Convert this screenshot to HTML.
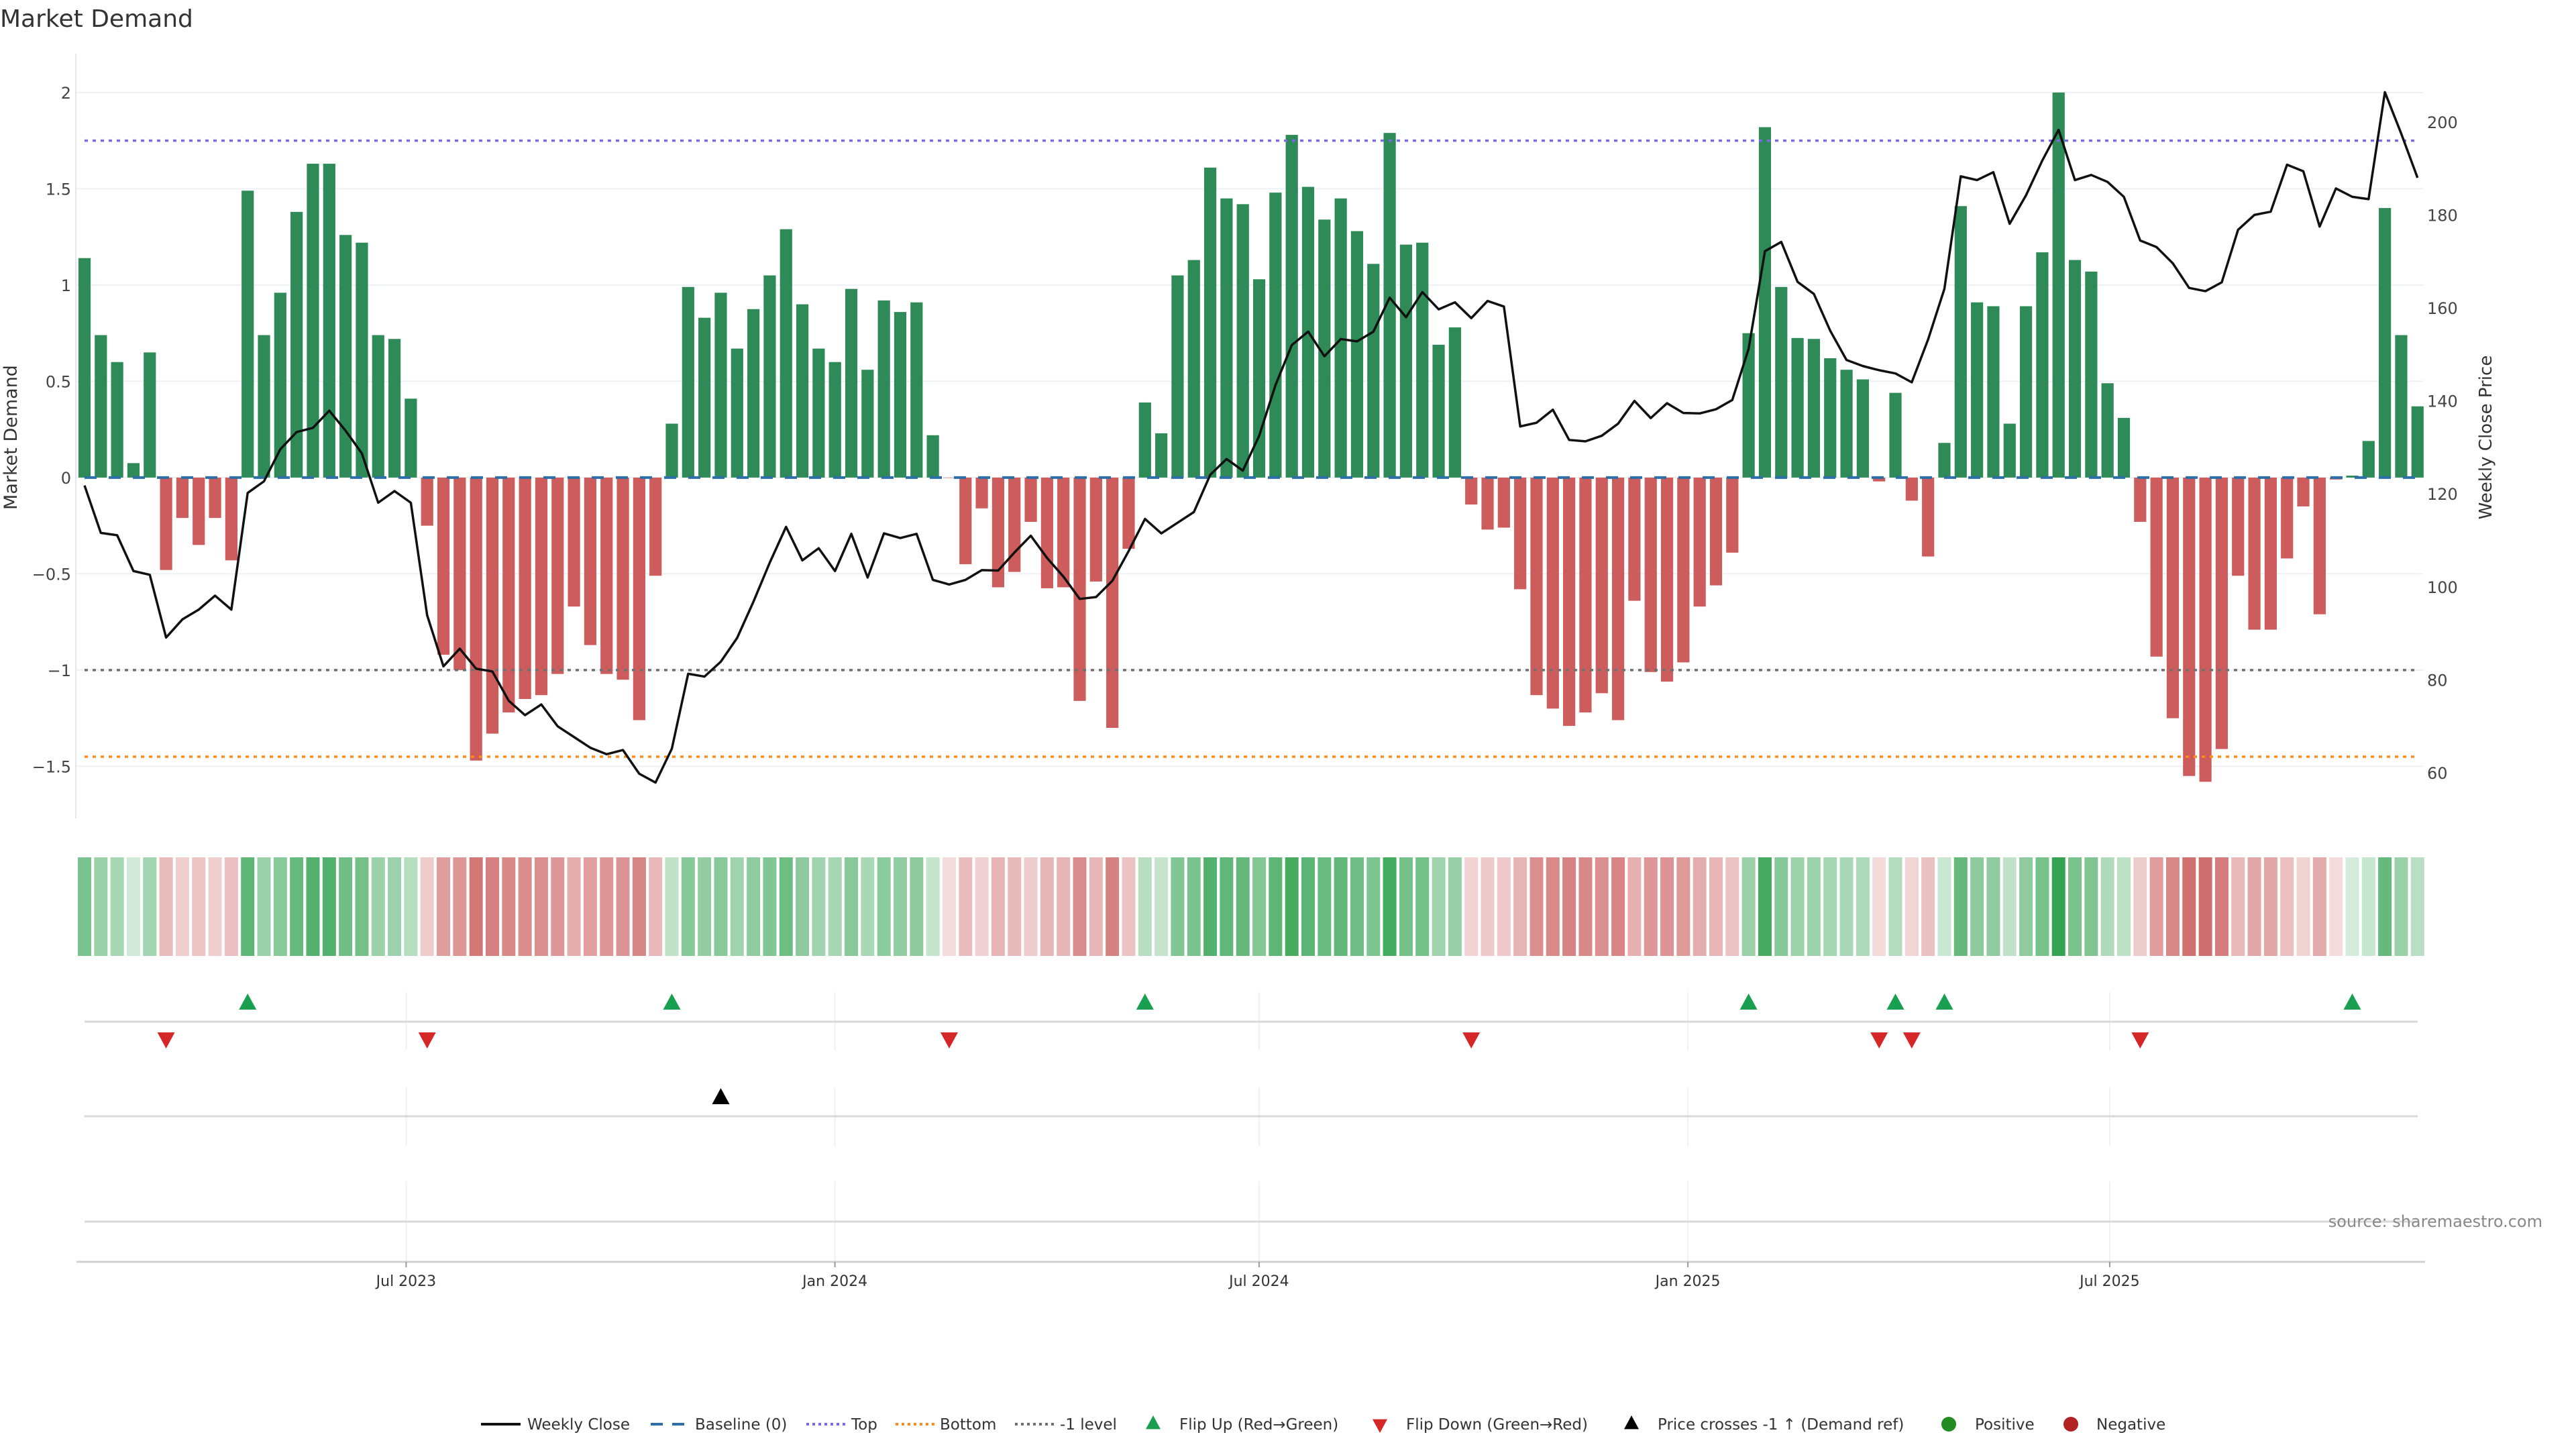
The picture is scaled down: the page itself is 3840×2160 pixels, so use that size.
<!DOCTYPE html>
<html><head><meta charset="utf-8"><style>
html,body{margin:0;padding:0;background:#fff}
svg{display:block;font-family:"DejaVu Sans","Liberation Sans",sans-serif}
</style></head><body>
<svg id="chart" xmlns="http://www.w3.org/2000/svg" width="3840" height="2160" viewBox="0 0 3840 2160">
<text x="0" y="40" font-size="36" fill="#333">Market Demand</text>
<g id="main"></g>
<g id="strip"></g>
<g id="flips"></g>
<g id="cross"></g>
<g id="xaxis"></g>
<text x="3790" y="1829" font-size="24" fill="#888" text-anchor="end">source: sharemaestro.com</text>
<g id="legend"></g>
</svg>
<script>
const demand = [1.14,0.74,0.60,0.075,0.65,-0.48,-0.21,-0.35,-0.21,-0.43,
1.49,0.74,0.96,1.38,1.63,1.63,1.26,1.22,0.74,0.72,
0.41,-0.25,-0.92,-1.0,-1.47,-1.33,-1.22,-1.15,-1.13,-1.02,
-0.67,-0.87,-1.02,-1.05,-1.26,-0.51,0.28,0.99,0.83,0.96,
0.67,0.875,1.05,1.29,0.90,0.67,0.60,0.98,0.56,0.92,
0.86,0.91,0.22,0,-0.45,-0.16,-0.57,-0.49,-0.23,-0.575,
-0.57,-1.16,-0.54,-1.30,-0.37,0.39,0.23,1.05,1.13,1.61,
1.45,1.42,1.03,1.48,1.78,1.51,1.34,1.45,1.28,1.11,
1.79,1.21,1.22,0.69,0.78,-0.14,-0.27,-0.26,-0.58,-1.13,
-1.2,-1.29,-1.22,-1.12,-1.26,-0.64,-1.01,-1.06,-0.96,-0.67,
-0.56,-0.39,0.75,1.82,0.99,0.725,0.72,0.62,0.56,0.51,
-0.02,0.44,-0.12,-0.41,0.18,1.41,0.91,0.89,0.28,0.89,
1.17,2.0,1.13,1.07,0.49,0.31,-0.23,-0.93,-1.25,-1.55,
-1.58,-1.41,-0.51,-0.79,-0.79,-0.42,-0.15,-0.71,-0.01,0.01,
0.19,1.40,0.74,0.37];
const price = [121.8,111.6,111.1,103.4,102.6,89.1,93.0,95.1,98.1,95.1,
120.2,122.7,129.6,133.3,134.2,137.9,133.6,128.7,118.1,120.6,
118.1,93.9,82.9,86.7,82.4,81.8,75.5,72.4,74.7,70.0,
67.7,65.4,64.0,64.9,59.8,57.9,65.2,81.3,80.7,83.9,
89.0,96.8,105.2,112.9,105.7,108.3,103.4,111.4,102.0,111.5,
110.5,111.4,101.5,100.5,101.5,103.6,103.5,107.4,111.0,106.2,
102.2,97.4,97.8,101.3,107.7,114.6,111.5,113.8,116.1,124.1,
127.5,125.0,132.5,143.4,152.0,154.9,149.6,153.3,152.8,154.9,
162.2,158.0,163.4,159.7,161.2,157.8,161.5,160.3,134.5,135.3,
138.1,131.6,131.3,132.5,135.1,140.0,136.3,139.5,137.4,137.3,
138.2,140.2,151.2,172.2,174.2,165.6,163.0,155.1,148.8,147.5,
146.6,145.9,144.0,153.2,164.1,188.3,187.5,189.2,178.1,184.2,
191.7,198.3,187.5,188.6,187.1,183.9,174.5,173.1,169.6,164.3,
163.6,165.5,176.8,180.0,180.7,190.8,189.4,177.5,185.7,183.9,
183.4,206.4,197.5,188.0];
const leftTicks = [2,1.5,1,0.5,0,-0.5,-1,-1.5];
const leftTickLabels = ["2","1.5","1","0.5","0","−0.5","−1","−1.5"];
const rightTicks = [200,180,160,140,120,100,80,60];
const levels = [1.75,-1.45,-1.0];
const dateTicks = ["2023-07-01","2024-01-01","2024-07-01","2025-01-01","2025-07-01"];
const dateTickLabels = ["Jul 2023","Jan 2024","Jul 2024","Jan 2025","Jul 2025"];
const firstWeek = "2023-02-13";

const NS="http://www.w3.org/2000/svg";
function mk(parent,tag,attrs){const e=document.createElementNS(NS,tag);for(const k in attrs)e.setAttribute(k,attrs[k]);parent.appendChild(e);return e;}
const PL=113, PR=3612, PT=80, PB=1220;
const yMD=v=>711.9-287*v;
const yP=p=>181.8+(200-p)*6.93;
const day0=Date.parse(firstWeek);
const xDate=s=>126+(Date.parse(s)-day0)/86400000*3.474;
const xBar=i=>126+i*24.32;

const main=document.getElementById('main');
// gridlines
leftTicks.forEach((t,i)=>{
  const g=mk(main,'line',{x1:PL,x2:PR,y1:yMD(t),y2:yMD(t),stroke:'#edf0f4','stroke-width':2});
  
  
  const tx=mk(main,'text',{x:106,y:yMD(t)+9,'font-size':24,fill:'#444','text-anchor':'end'});
  tx.textContent=leftTickLabels[i];
  
  
});
rightTicks.forEach(t=>{
  const tx=mk(main,'text',{x:3618,y:yP(t)+9,'font-size':24,fill:'#444'});
  tx.textContent=String(t);
  
  
});
const ax=mk(main,'line',{x1:PL,x2:PL,y1:PT,y2:PB,stroke:'#e4e7ec','stroke-width':2});


const yt=mk(main,'text',{x:0,y:0,'font-size':27,fill:'#333','text-anchor':'middle',transform:'translate(25,652) rotate(-90)'});
yt.textContent='Market Demand';


const yt2=mk(main,'text',{x:0,y:0,'font-size':26,fill:'#333','text-anchor':'middle',transform:'translate(3714,652) rotate(-90)'});
yt2.textContent='Weekly Close Price';


// bars
demand.forEach((v,i)=>{
  const y0=yMD(0), y1=yMD(v);
  const r=mk(main,'rect',{x:xBar(i)-9.1,width:18.2,y:Math.min(y0,y1),height:Math.max(Math.abs(y1-y0),0.5),fill:v>0?'#2e8b57':'#cd5c5c'});
  
  
});
// levels
const lvColors=['#7b68ee','#ff8c1a','#707070'];
const lvNames=['top-level-line','bottom-level-line','minus-one-level-line'];
levels.forEach((l,i)=>{
  const e=mk(main,'line',{x1:126,x2:3604,y1:yMD(l),y2:yMD(l),stroke:lvColors[i],'stroke-width':3.5,'stroke-dasharray':'5,7'});
  
  
});
const bl=mk(main,'line',{x1:126,x2:3604,y1:yMD(0),y2:yMD(0),stroke:'#2f6fa7','stroke-width':4,'stroke-dasharray':'18,18'});


const pl=mk(main,'polyline',{points:price.map((p,i)=>xBar(i)+','+yP(p)).join(' '),fill:'none',stroke:'#111','stroke-width':3.5,'stroke-linejoin':'round'});



// strip
const strip=document.getElementById('strip');
function mix(c,t){return 'rgb('+c.map(x=>Math.round(255+(x-255)*t)).join(',')+')';}
demand.forEach((v,i)=>{
  const t=0.2+0.8*Math.min(Math.abs(v)/2,1);
  const r=mk(strip,'rect',{x:xBar(i)-10,width:20,y:1278,height:147,fill:mix(v>0?[52,163,82]:[200,82,82],t)});
  
  
});

// lower panels
const flips=document.getElementById('flips'), cross=document.getElementById('cross'), xa=document.getElementById('xaxis');
[[1479,1566],[1621,1708],[1761,1881]].forEach(([a,b])=>{
  dateTicks.forEach(d=>{
    const g=mk(xa,'line',{x1:xDate(d),x2:xDate(d),y1:a,y2:b,stroke:'#eef0f3','stroke-width':2});
    
    
  });
});
[1523,1664,1821].forEach(y=>{
  const l=mk(xa,'line',{x1:126,x2:3604,y1:y,y2:y,stroke:'#d9d9d9','stroke-width':3});
  
  
});
const xl=mk(xa,'line',{x1:114,x2:3615,y1:1881,y2:1881,stroke:'#d0d0d0','stroke-width':3});


dateTicks.forEach((d,i)=>{
  const x=xDate(d);
  const tk=mk(xa,'line',{x1:x,x2:x,y1:1881,y2:1889,stroke:'#999','stroke-width':2});
  
  
  const t=mk(xa,'text',{x:x,y:1917,'font-size':22,fill:'#333','text-anchor':'middle'});
  t.textContent=dateTickLabels[i];
  
  
});
function tri(parent,x,y,up,col,s){
  s=s||13;
  const pts=up?[[x,y-s],[x-s,y+s*0.85],[x+s,y+s*0.85]]:[[x,y+s],[x-s,y-s*0.85],[x+s,y-s*0.85]];
  return mk(parent,'polygon',{points:pts.map(p=>p.join(',')).join(' '),fill:col});
}
for(let i=1;i<demand.length;i++){
  if(demand[i-1]<=0&&demand[i]>0){
    const t=tri(flips,xBar(i),1494,true,'#18a050');
    
    
  }
  if(demand[i-1]>0&&demand[i]<=0){
    const t=tri(flips,xBar(i),1550,false,'#d62728');
    
    
  }
}
const thr=200-(yMD(-1)-181.8)/6.93;
for(let i=1;i<price.length;i++){
  if(price[i-1]<thr&&price[i]>=thr){
    const t=tri(cross,xBar(i),1635,true,'#000');
    
    
  }
}

// legend
const lg=document.getElementById('legend');
const LY=2123;
function ltext(x,s){const t=mk(lg,'text',{x:x,y:LY+8,'font-size':23,fill:'#333'});t.textContent=s;}
function lline(x,col,dash,w){const l=mk(lg,'line',{x1:x,x2:x+59,y1:LY,y2:LY,stroke:col,'stroke-width':w,'stroke-dasharray':dash});}
lline(717,'#111','none',4);ltext(786,'Weekly Close');
lline(970,'#2f6fa7','18,14',4);ltext(1036,'Baseline (0)');
lline(1202,'#7b68ee','4,5',4);ltext(1269,'Top');
lline(1335,'#ff8c1a','4,5',4);ltext(1401,'Bottom');
lline(1513,'#707070','4,5',4);ltext(1580,'-1 level');
let s=tri(lg,1719,LY-2,true,'#18a050',11);ltext(1758,'Flip Up (Red→Green)');
s=tri(lg,2057,LY+2,false,'#d62728',11);ltext(2096,'Flip Down (Green→Red)');
s=tri(lg,2432,LY-2,true,'#000',11);ltext(2471,'Price crosses -1 ↑ (Demand ref)');
s=mk(lg,'circle',{cx:2905,cy:LY,r:11,fill:'#228b22'});ltext(2944,'Positive');
s=mk(lg,'circle',{cx:3087,cy:LY,r:11,fill:'#b22222'});ltext(3125,'Negative');
</script>
</body></html>
